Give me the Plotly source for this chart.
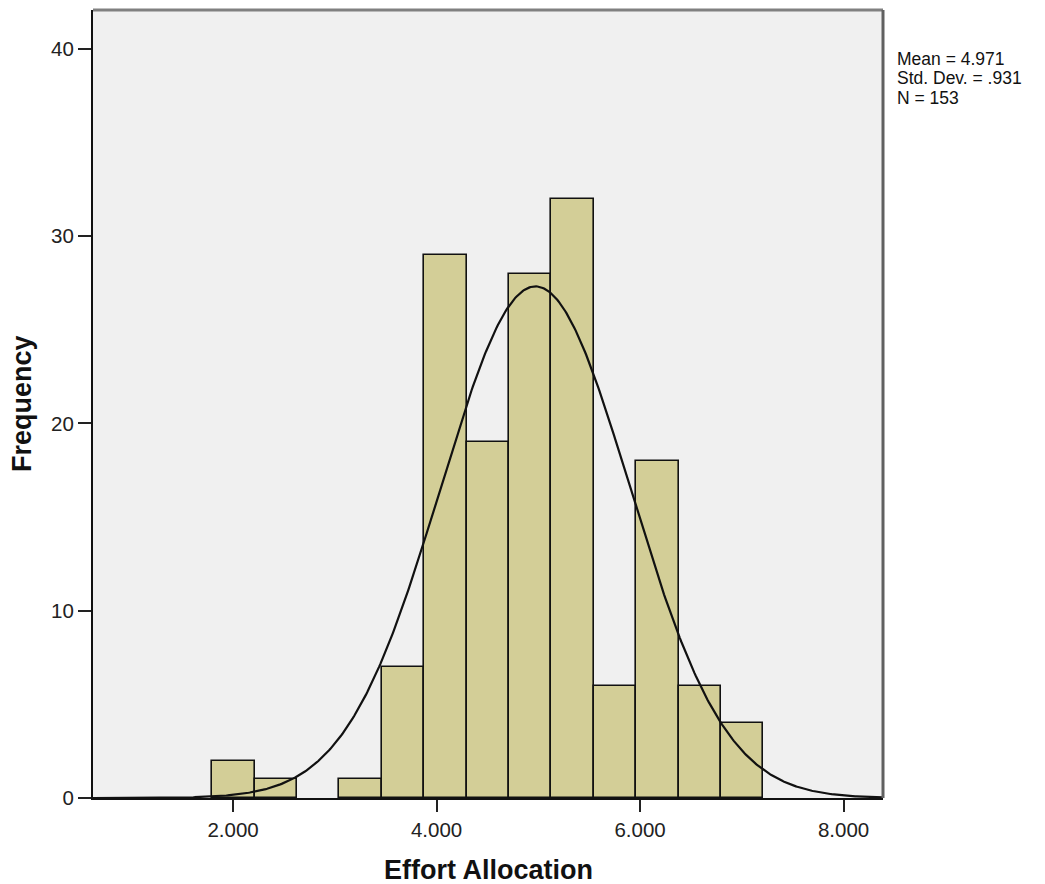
import numpy as np
import plotly.graph_objects as go

# Histogram of Effort Allocation (13 equal-width bins)
bin_start = 1.795
bin_width = 0.4167
counts = [2, 1, 0, 1, 7, 29, 19, 28, 32, 6, 18, 6, 4]

# Summary statistics shown in the side legend
mean = 4.971
std_dev = 0.931
n_obs = 153

x_ticks = [2, 4, 6, 8]
y_ticks = [0, 10, 20, 30, 40]

x_range = [0.623, 8.387]
y_range = [0, 42.08]

edges = [bin_start + i * bin_width for i in range(len(counts) + 1)]
centers = [(edges[i] + edges[i + 1]) / 2 for i in range(len(counts))]
bar_x = [c for c, v in zip(centers, counts) if v > 0]
bar_y = [v for v in counts if v > 0]

# Fitted normal curve scaled to frequency
curve_x = np.linspace(x_range[0], x_range[1], 600)
curve_y = n_obs * bin_width / (std_dev * np.sqrt(2 * np.pi)) * np.exp(
    -0.5 * ((curve_x - mean) / std_dev) ** 2
)

font_family = "Liberation Sans, Arial, sans-serif"

W, H = 1045, 884
M_L, M_R, M_T, M_B = 93, 162, 10, 86
plot_w = W - M_L - M_R
plot_h = H - M_T - M_B

fig = go.Figure()
fig.add_trace(
    go.Bar(
        x=bar_x,
        y=bar_y,
        width=bin_width,
        marker=dict(color="#D3CE97", line=dict(color="#111111", width=1.6)),
        hoverinfo="x+y",
    )
)
fig.add_trace(
    go.Scatter(
        x=curve_x,
        y=curve_y,
        mode="lines",
        line=dict(color="#111111", width=2.2),
        hoverinfo="skip",
    )
)

fig.update_layout(
    width=W,
    height=H,
    margin=dict(l=M_L, r=M_R, t=M_T, b=M_B),
    paper_bgcolor="white",
    plot_bgcolor="#F0F0F0",
    showlegend=False,
    bargap=0,
    font=dict(family=font_family, color="#222222"),
)

axis_common = dict(
    ticks="outside",
    tickwidth=2,
    tickcolor="#222222",
    tickfont=dict(size=20.5, color="#222222"),
    showgrid=False,
    zeroline=False,
    showline=True,
    linecolor="#111111",
    linewidth=2,
    automargin=False,
)
fig.update_xaxes(range=x_range, tickvals=x_ticks, tickformat=".3f", ticklen=12, **axis_common)
fig.update_yaxes(range=y_range, tickvals=y_ticks, ticklen=13, **axis_common)

# Axis titles
fig.add_annotation(
    xref="paper", yref="paper", x=0.5, y=-(870 - M_T - plot_h) / plot_h,
    xanchor="center", yanchor="middle", showarrow=False,
    text="<b>Effort Allocation</b>",
    font=dict(size=27, color="#111111", family=font_family),
)
fig.add_annotation(
    xref="paper", yref="paper", x=-(M_L - 22) / plot_w, y=0.5,
    xanchor="center", yanchor="middle", showarrow=False, textangle=-90,
    text="<b>Frequency</b>",
    font=dict(size=27, color="#111111", family=font_family),
)

# Gray frame on the top and right sides of the plot area
fig.add_shape(
    type="line", xref="paper", yref="paper", x0=0, x1=1, y0=1, y1=1,
    line=dict(color="#808080", width=3),
)
fig.add_shape(
    type="line", xref="paper", yref="paper", x0=1, x1=1, y0=0, y1=1,
    line=dict(color="#606060", width=3),
)

# Statistics box, one line per annotation for tight line spacing
stat_lines = [
    f"Mean = {mean:.3f}",
    f"Std. Dev. = {f'{std_dev:.3f}'.lstrip('0')}",
    f"N = {n_obs}",
]
for i, line in enumerate(stat_lines):
    y_px = 59 + i * 19.5
    fig.add_annotation(
        xref="paper",
        yref="paper",
        x=1 + (896 - (M_L + plot_w)) / plot_w,
        y=1 - (y_px - M_T) / plot_h,
        xanchor="left",
        yanchor="middle",
        align="left",
        showarrow=False,
        borderpad=0,
        text=line,
        font=dict(size=17.5, color="#111111", family=font_family),
    )

fig.write_html("out.html")
